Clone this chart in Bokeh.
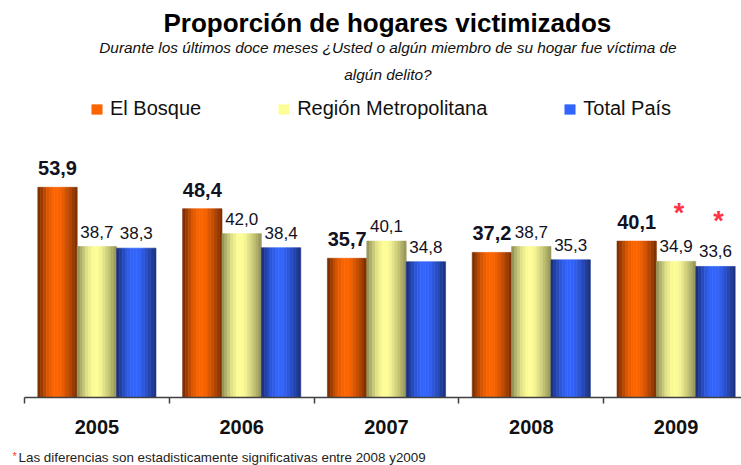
from bokeh.plotting import figure
from bokeh.layouts import column
from bokeh.models import (ColumnDataSource, Range1d, FixedTicker, Legend, LegendItem,
                          CDSView, BooleanFilter, Plot)
from bokeh.transform import dodge
from bokeh.core.properties import value
from bokeh.embed import file_html
from bokeh.resources import INLINE

# ---------------- data ----------------
years = ["2005", "2006", "2007", "2008", "2009"]
el_bosque = [53.9, 48.4, 35.7, 37.2, 40.1]
region_metropolitana = [38.7, 42.0, 40.1, 38.7, 34.9]
total_pais = [38.3, 38.4, 34.8, 35.3, 33.6]
signif_rm = [False, False, False, False, True]
signif_tp = [False, False, False, False, True]
series_names = ["El Bosque", "Región Metropolitana", "Total País"]

title_text = "Proporción de hogares victimizados"
subtitle_1 = "Durante los últimos doce meses ¿Usted o algún miembro de su hogar fue víctima de"
subtitle_2 = "algún delito?"
footnote = "Las diferencias son estadisticamente significativas entre 2008 y2009"

FONT = "Liberation Sans"
HAS_FRAME_ALIGN = "frame_align" in Plot.properties()


def fmt(v):
    return f"{v:.1f}".replace(".", ",")


x_pos = [i + 0.5 for i in range(len(years))]
src = ColumnDataSource(dict(
    x=x_pos, year=years,
    eb=el_bosque, rm=region_metropolitana, tp=total_pais,
    eb_l=[fmt(v) for v in el_bosque],
    rm_l=[fmt(v) for v in region_metropolitana],
    tp_l=[fmt(v) for v in total_pais],
    star=["*"] * len(years),
))

PX_PER_UNIT = 3.9
FRAME_H = 397
FRAME_W = 717
CAT_PX = 144.8
p = figure(width=741, height=445,
           x_range=Range1d(0, FRAME_W / CAT_PX), y_range=Range1d(0, FRAME_H / PX_PER_UNIT),
           output_backend="svg", toolbar_location=None,
           min_border_left=24, min_border_right=0, min_border_top=0, min_border_bottom=48)
p.outline_line_color = None
p.grid.visible = False
p.yaxis.visible = False
p.background_fill_color = "white"
p.border_fill_color = "white"

# x axis: category boundaries as minor ticks, years as labels
xa = p.xaxis[0]
xa.ticker = FixedTicker(ticks=x_pos, minor_ticks=list(range(len(years) + 1)))
xa.major_label_overrides = {xv: y for xv, y in zip(x_pos, years)}
xa.axis_line_color = "#404040"
xa.axis_line_width = 1.5
xa.major_tick_line_color = None
xa.major_tick_out = 0
xa.major_tick_in = 0
xa.minor_tick_line_color = "#404040"
xa.minor_tick_line_width = 1.5
xa.minor_tick_out = 6
xa.minor_tick_in = 0
xa.major_label_standoff = 16
xa.major_label_text_font = FONT
xa.major_label_text_font_size = "20px"
xa.major_label_text_font_style = "bold"
xa.major_label_text_color = "#111111"


def hex2rgb(h):
    h = h.lstrip("#")
    return tuple(int(h[i:i + 2], 16) for i in (0, 2, 4))


def mix(dark, bright, b):
    d, br = hex2rgb(dark), hex2rgb(bright)
    c = [round(d[i] + (br[i] - d[i]) * b) for i in range(3)]
    return "#%02x%02x%02x" % tuple(c)


# horizontal shading profile across a bar (0 = dark, 1 = bright)
prof_t = [0.0, 0.25, 0.42, 0.58, 0.8, 1.0]
prof_b = [0.05, 0.75, 1.0, 0.95, 0.55, 0.1]


def profile(t):
    for i in range(len(prof_t) - 1):
        if prof_t[i] <= t <= prof_t[i + 1]:
            f = (t - prof_t[i]) / (prof_t[i + 1] - prof_t[i])
            return prof_b[i] + f * (prof_b[i + 1] - prof_b[i])
    return prof_b[-1]


W = 0.272
N = 14
series = [
    ("eb", "#ff6600", "#6a2600", -W),
    ("rm", "#ffff99", "#85854f", 0.0),
    ("tp", "#3366ff", "#17296e", W),
]

legend_renderers = []
for key, bright, dark, off in series:
    rep = None
    for k in range(N):
        t = (k + 0.5) / N
        col = mix(dark, bright, profile(t))
        r = p.vbar(x=dodge("x", off - W / 2 + (k + 0.5) * W / N), top=key, bottom=0,
                   width=W / N, source=src, fill_color=col, line_color=col, line_width=0.6)
        if k == int(N * 0.45):
            rep = r
    legend_renderers.append(rep)

# value labels
p.text(x=dodge("x", -W), y="eb", text="eb_l", source=src, text_align="center",
       text_baseline="middle", y_offset=-19, text_font=value(FONT),
       text_font_size="20px", text_font_style="bold", text_color="#111122")
p.text(x=dodge("x", 0.0), y="rm", text="rm_l", source=src, text_align="center",
       text_baseline="middle", y_offset=-15, text_font=value(FONT),
       text_font_size="17px", text_color="#111122")
p.text(x=dodge("x", W), y="tp", text="tp_l", source=src, text_align="center",
       text_baseline="middle", y_offset=-15, text_font=value(FONT),
       text_font_size="17px", text_color="#111122")

# significance stars
p.text(x=dodge("x", 0.0), y="rm", text="star", source=src,
       view=CDSView(filter=BooleanFilter(signif_rm)),
       text_align="center", text_baseline="middle", x_offset=3, y_offset=-48,
       text_font=value(FONT), text_font_size="27px", text_font_style="bold", text_color="#ff3344")
p.text(x=dodge("x", W), y="tp", text="star", source=src,
       view=CDSView(filter=BooleanFilter(signif_tp)),
       text_align="center", text_baseline="middle", x_offset=3, y_offset=-45,
       text_font=value(FONT), text_font_size="27px", text_font_style="bold", text_color="#ff3344")

# legend
legend = Legend(items=[LegendItem(label=n, renderers=[r]) for n, r in zip(series_names, legend_renderers)],
                orientation="horizontal", location=(66, 277),
                glyph_width=13, glyph_height=12, label_standoff=7, spacing=76,
                padding=0, margin=0, border_line_color=None, background_fill_alpha=0,
                label_text_font=FONT, label_text_font_size="20px", label_text_color="#111111")
p.add_layout(legend)

# titles (as text glyphs in the upper part of the frame)
p.text(x="x", y="y", text="text", source=ColumnDataSource(dict(x=[2.506], y=[95.9], text=[title_text])),
       text_align="center", text_baseline="middle", text_font=value(FONT),
       text_font_size="26px", text_font_style="bold", text_color="#000000")
p.text(x="x", y="y", text="text",
       source=ColumnDataSource(dict(x=[2.51, 2.51], y=[89.7, 82.8], text=[subtitle_1, subtitle_2])),
       text_align="center", text_baseline="middle", text_font=value(FONT),
       text_font_size="15.4px", text_font_style="italic", text_color="#111111")

# footnote strip (y runs downward in page pixels)
foot = figure(width=741, height=20, x_range=Range1d(0, 741), y_range=Range1d(465, 445),
              output_backend="svg", toolbar_location=None, x_axis_type=None, y_axis_type=None,
              min_border=0)
foot.outline_line_color = None
foot.grid.visible = False
fx0 = 12 if HAS_FRAME_ALIGN else 24
if HAS_FRAME_ALIGN:
    p.frame_align = False
    foot.frame_align = False
else:
    foot.x_range = Range1d(24, 741)
foot.text(x=[fx0], y=[455], text=["*"], text_align="left", text_baseline="middle",
          text_font=value(FONT), text_font_size="11px", text_color="#ff3333")
foot.text(x=[fx0 + 6], y=[457], text=[footnote], text_align="left", text_baseline="middle",
          text_font=value(FONT), text_font_size="13.4px", text_color="#222222")

layout = column(p, foot, spacing=0)
open("out.html", "w").write(file_html(layout, INLINE))
